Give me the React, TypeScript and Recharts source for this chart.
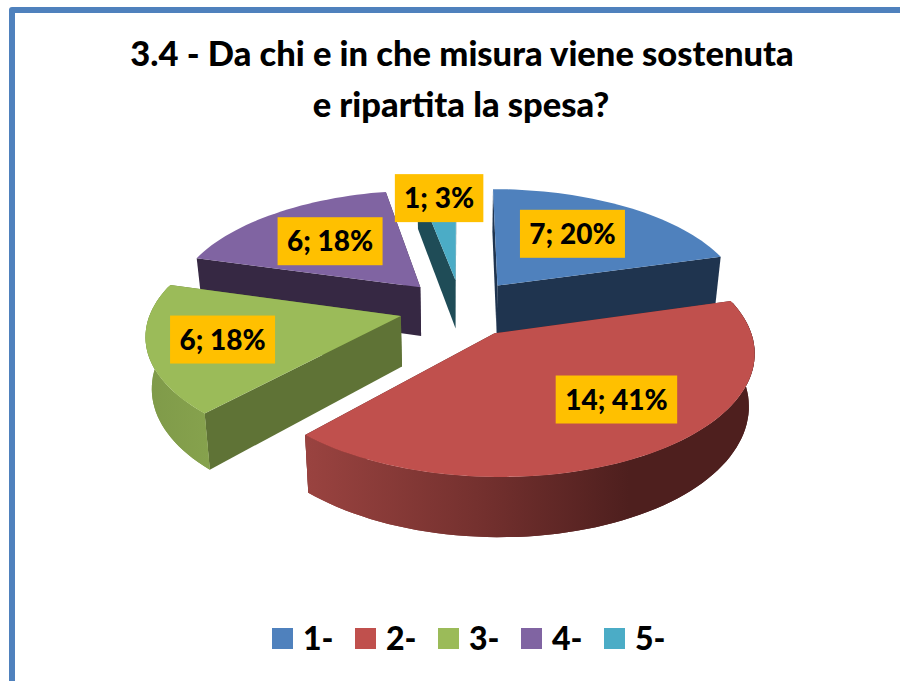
import { PieChart, Pie, Legend } from "recharts";

const CATEGORIES = ["1-", "2-", "3-", "4-", "5-"];
const COUNTS = [7, 14, 6, 6, 1];
const PERCENTS = [20, 41, 18, 18, 3];

const COLORS = ["#4f81bd", "#c0504d", "#9bbb59", "#8064a2", "#4bacc6"];
const CUT_COLORS = ["#1f344f", "#4e1f1e", "#5f7336", "#362843", "#1f4c57"];
// where each label sits: share of the radius, and a small turn off the slice's middle
const LABEL_T = [0.61, 0.66, 0.71, 0.6, 0.85];
const LABEL_TURN = [-3, -9, 0, 0, 0];

// slices are painted back to front: purple, teal, blue, red, green
const PAINT_ORDER = [3, 4, 0, 1, 2];

const W = 900;
const H = 681;
const CX = 461;
const CY = 308;
const R = 249;
const TILT = 0.465; // y squash of the disc
const PERSP = 0.14; // front of the disc is bigger than the back
const DEPTH = 50;
const EXPLODE = 62;
const FONT = "Lato, Carlito, sans-serif";

const total = COUNTS.reduce((a, b) => a + b, 0);
const before = COUNTS.slice(0, PAINT_ORDER[0]).reduce((a, b) => a + b, 0);
const START = 90 - (before / total) * 360;

const pieData = PAINT_ORDER.map((i) => ({
  name: CATEGORIES[i],
  value: COUNTS[i],
  fill: COLORS[i],
}));

// theta is clockwise from 12 o'clock, r goes 0..1 of the radius
function project(theta: number, r: number, mid: number, low = false) {
  const t = (theta * Math.PI) / 180;
  const m = (mid * Math.PI) / 180;
  const x = EXPLODE * Math.sin(m) + R * r * Math.sin(t);
  const y = -EXPLODE * Math.cos(m) - R * r * Math.cos(t);
  const f = 1 / (1 - (PERSP * y) / R);
  return {
    x: CX + x * f * (low ? 0.98 : 1),
    y: CY + y * TILT * f + (low ? DEPTH * f : 0),
  };
}

const path = (pts: { x: number; y: number }[]) =>
  "M" + pts.map((p) => `${p.x.toFixed(1)},${p.y.toFixed(1)}`).join("L") + "Z";

function arc(a: number, b: number, mid: number, low = false) {
  const pts = [];
  const n = Math.max(2, Math.ceil(Math.abs(b - a) / 2));
  for (let i = 0; i <= n; i++) pts.push(project(a + ((b - a) * i) / n, 1, mid, low));
  return pts;
}

function Slice3D(props: any) {
  const name = props.name ?? props.payload?.name;
  const idx = CATEGORIES.indexOf(name);
  const a0 = 90 - props.startAngle;
  const a1 = 90 - props.endAngle;
  const mid = (a0 + a1) / 2;
  const norm = (d: number) => ((d % 360) + 360) % 360;
  const from = norm(a0);
  const to = from + (a1 - a0);

  const cut = (th: number) =>
    path([project(th, 0, mid), project(th, 1, mid), project(th, 1, mid, true), project(th, 0, mid, true)]);
  const cuts = [from, to].sort((p, q) => project(p, 1, mid).y - project(q, 1, mid).y);

  // the rim, a little past the sides so it closes against the top face
  const wa = Math.max(from, 75);
  const wb = Math.min(to, 285);
  const top = wb > wa ? arc(wa, wb, mid) : [];
  const low = wb > wa ? arc(wa, wb, mid, true) : [];
  // rim swept downwards, this keeps the outline clean at the far left and right
  const sweep = top
    .slice(0, -1)
    .map((p, i) => path([p, top[i + 1], low[i + 1], low[i]]))
    .join("");

  return (
    <g>
      <defs>
        <linearGradient id={`wall-${idx}`} x1="0" y1="0" x2="1" y2="0">
          {idx === 1 ? (
            <>
              <stop offset="0" stopColor="#9a4340" />
              <stop offset="0.4" stopColor="#73302e" />
              <stop offset="0.72" stopColor="#4e1f1e" />
              <stop offset="1" stopColor="#4e1f1e" />
            </>
          ) : (
            <>
              <stop offset="0" stopColor="#7f9a49" />
              <stop offset="1" stopColor="#86a24d" />
            </>
          )}
        </linearGradient>
      </defs>
      {cuts.map((th) => (
        <path key={th} d={cut(th)} fill={CUT_COLORS[idx]} />
      ))}
      {wb > wa && (
        <>
          <path d={path([...top, ...[...low].reverse()])} fill={`url(#wall-${idx})`} />
          <path d={sweep} fill={`url(#wall-${idx})`} />
        </>
      )}
      <path d={path([project(from, 0, mid), ...arc(from, to, mid)])} fill={props.fill} />
    </g>
  );
}

function SliceLabel(props: any) {
  const name = props.name ?? props.payload?.name;
  const idx = CATEGORIES.indexOf(name);
  const mid = 90 - props.midAngle;
  const p = project(mid + LABEL_TURN[idx], LABEL_T[idx], mid);
  const text = `${COUNTS[idx]}; ${PERCENTS[idx]}%`;
  const w = 16.5 * text.length + 6;
  return (
    <g>
      <rect x={p.x - w / 2} y={p.y - 24} width={w} height={48} fill="#ffc000" />
      <text x={p.x} y={p.y + 10} textAnchor="middle" fontFamily={FONT} fontWeight={900} fontSize={28} fill="#000">
        {text}
      </text>
    </g>
  );
}

function LegendRow({ payload }: any) {
  const items = [...(payload ?? [])].sort((a, b) => String(a.value).localeCompare(String(b.value)));
  return (
    <div style={{ display: "flex", fontFamily: FONT, fontWeight: 900, fontSize: 32, color: "#000" }}>
      {items.map((it: any) => (
        <div key={it.value} style={{ width: 83, display: "flex", alignItems: "center" }}>
          <span style={{ width: 21, height: 21, background: it.color, marginRight: 10, flex: "none" }} />
          <span style={{ lineHeight: "40px" }}>{it.value}</span>
        </div>
      ))}
    </div>
  );
}

export default function App() {
  return (
    <div style={{ position: "fixed", left: 0, top: 0, width: W, height: H, background: "#fff", overflow: "hidden" }}>
      <div
        style={{
          position: "absolute",
          left: 9,
          top: 7,
          width: W,
          height: H,
          border: "6px solid #4f81bd",
          borderRadius: 3,
        }}
      />
      <PieChart width={W} height={H} margin={{ top: 0, right: 0, bottom: 0, left: 0 }} style={{ position: "absolute", left: 0, top: 0 }}>
        <text x={462} y={66} textAnchor="middle" fontFamily={FONT} fontWeight={900} fontSize={34.5} fill="#000">
          3.4 - Da chi e in che misura viene sostenuta
        </text>
        <text x={461} y={117} textAnchor="middle" fontFamily={FONT} fontWeight={900} fontSize={34.5} fill="#000">
          e ripartita la spesa?
        </text>
        <Pie
          data={pieData}
          dataKey="value"
          nameKey="name"
          cx={CX}
          cy={CY}
          outerRadius={R}
          startAngle={START}
          endAngle={START - 360}
          stroke="none"
          shape={Slice3D}
          label={SliceLabel}
          labelLine={false}
          isAnimationActive={false}
        />
        <Legend content={LegendRow} wrapperStyle={{ left: 272, top: 618, width: 430, bottom: "auto" }} />
      </PieChart>
    </div>
  );
}
